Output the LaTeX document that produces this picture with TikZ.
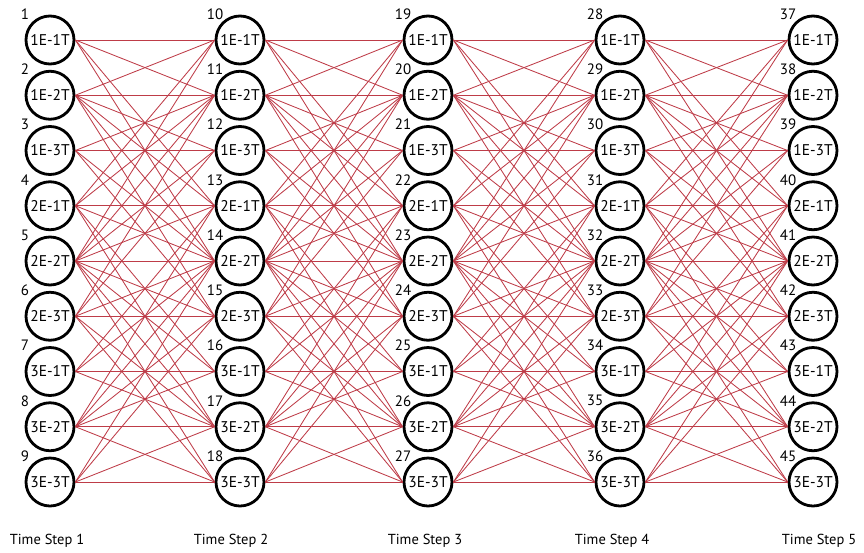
\documentclass[tikz,border=0pt]{standalone}
\usepackage{fontspec}
\setmainfont{PT Sans}
\usetikzlibrary{calc}
\definecolor{linkred}{RGB}{190,60,72}
\tikzset{
  statenode/.style={circle,draw=black,line width=2.8pt,minimum size=48pt,inner sep=0pt,fill=white,
    font=\fontsize{15.5}{15.5}\selectfont},
  numlab/.style={inner sep=0pt,font=\fontsize{15}{15}\selectfont},
  steplab/.style={inner sep=0pt,font=\fontsize{14.5}{14.5}\selectfont},
  link/.style={draw=linkred,line width=0.85pt}
}
\begin{document}
\begin{tikzpicture}[x=1pt,y=-1pt]
\useasboundingbox (0,0) rectangle (864,552);
\foreach \k in {0,...,4} {
  \foreach \r in {0,...,8} {
    \pgfmathsetmacro\cx{{50,240,428,620,813}[\k]}
    \pgfmathtruncatemacro\num{9*\k+\r+1}
    \pgfmathtruncatemacro\E{div(\r,3)+1}
    \pgfmathtruncatemacro\T{mod(\r,3)+1}
    \node[statenode] (c\k-\r) at (\cx, {40+55.25*\r}) {\E E-\T T};
    \node[numlab] (n\k-\r) at ($(c\k-\r.center)+(-25,-26)$) {\num};
  }
}
\foreach \k [evaluate=\k as \kn using int(\k+1)] in {0,...,3} {
  \foreach \r in {0,...,8} {
    \foreach \s in {0,...,8} {
      \pgfmathtruncatemacro\ok{and(abs(div(\r,3)-div(\s,3))<=1, abs(mod(\r,3)-mod(\s,3))<=1)}
      \ifnum\ok=1
        \draw[link] (c\k-\r.east) -- (c\kn-\s.west);
      \fi
    }
  }
}
\node[steplab] (t1) at (47,541) {Time Step 1};
\node[steplab] (t2) at (231,541) {Time Step 2};
\node[steplab] (t3) at (425,541) {Time Step 3};
\node[steplab] (t4) at (612,541) {Time Step 4};
\node[steplab] (t5) at (819,541) {Time Step 5};
\end{tikzpicture}
\end{document}
